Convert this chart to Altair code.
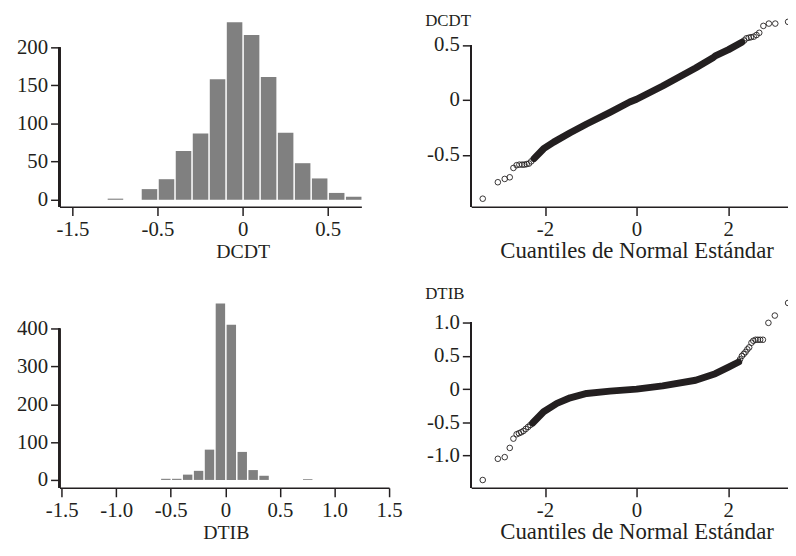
import altair as alt
import pandas as pd

FONT = "Liberation Serif"
INK = "#231f20"
BAR = "#808080"
BIN_W = 0.1

# ---------------- data ----------------
# Histogram DCDT (bin left edges, counts)
dcdt_bin_start = [-0.8, -0.6, -0.5, -0.4, -0.3, -0.2, -0.1, 0.0, 0.1, 0.2, 0.3, 0.4, 0.5, 0.6]
dcdt_counts = [1.5, 14, 27, 64, 87, 158, 233, 216, 161, 88, 48, 28, 9, 4]
dcdt_hist_ticks = [-1.0, -0.5, 0.0, 0.5]
dcdt_hist_labels = ["-1.5", "-0.5", "0", "0.5"]
dcdt_count_ticks = [0, 50, 100, 150, 200]

# Histogram DTIB
dtib_bin_start = [-0.6, -0.5, -0.4, -0.3, -0.2, -0.1, 0.0, 0.1, 0.2, 0.3, 0.7]
dtib_counts = [3, 3, 14, 24, 80, 466, 410, 74, 26, 11, 2]
dtib_hist_ticks = [-1.5, -1.0, -0.5, 0.0, 0.5, 1.0, 1.5]
dtib_hist_labels = ["-1.5", "-1.0", "-0.5", "0", "0.5", "1.0", "1.5"]
dtib_count_ticks = [0, 100, 200, 300, 400]

# Normal QQ plot DCDT: dense band (quantile, value) and the separate tail points
dcdt_band_q = [-2.24, -2.03, -1.81, -1.45, -1.09, -0.58, -0.15, 0.0, 0.57, 1.29, 1.66, 1.72, 2.01, 2.30]
dcdt_band_v = [-0.535, -0.445, -0.385, -0.30, -0.22, -0.114, -0.02, 0.005, 0.126, 0.29, 0.38, 0.40, 0.457, 0.525]
dcdt_tail_q = [-3.36, -3.03, -2.88, -2.77, -2.69, -2.62, -2.56, -2.50, -2.45, -2.40, -2.35, -2.30,
               2.35, 2.40, 2.45, 2.50, 2.56, 2.62, 2.68, 2.77, 2.89, 3.03, 3.31]
dcdt_tail_v = [-0.90, -0.75, -0.72, -0.705, -0.62, -0.595, -0.59, -0.59, -0.59, -0.585, -0.58, -0.56,
               0.54, 0.56, 0.565, 0.57, 0.575, 0.59, 0.61, 0.673, 0.694, 0.694, 0.71]
dcdt_qq_ticks = [-0.5, 0.0, 0.5]
dcdt_qq_labels = ["-0.5", "0", "0.5"]

# Normal QQ plot DTIB
dtib_band_q = [-2.27, -2.03, -1.74, -1.45, -1.09, -0.58, 0.0, 0.57, 1.29, 1.72, 2.01, 2.23]
dtib_band_v = [-0.51, -0.34, -0.215, -0.13, -0.065, -0.03, 0.0, 0.05, 0.134, 0.233, 0.333, 0.41]
dtib_tail_q = [-3.36, -3.03, -2.88, -2.77, -2.69, -2.62, -2.57, -2.52, -2.47, -2.42, -2.37, -2.32,
               2.26, 2.30, 2.34, 2.38, 2.42, 2.46, 2.51, 2.55, 2.60, 2.65, 2.70, 2.76, 2.88, 3.02, 3.31]
dtib_tail_v = [-1.37, -1.05, -1.025, -0.886, -0.746, -0.68, -0.665, -0.65, -0.63, -0.60, -0.57, -0.54,
               0.45, 0.50, 0.53, 0.56, 0.60, 0.63, 0.70, 0.73, 0.745, 0.745, 0.745, 0.745, 1.0, 1.11, 1.30]
dtib_qq_ticks = [-1.0, -0.5, 0.0, 0.5, 1.0]
dtib_qq_labels = ["-1.0", "-0.5", "0", "0.5", "1.0"]

qq_x_ticks = [-2, 0, 2]
qq_x_labels = ["-2", "0", "2"]
qq_x_title = "Cuantiles de Normal Estándar"


def label_expr(vals, texts):
    expr = "''"
    for v, t in zip(reversed(vals), reversed(texts)):
        expr = f"abs(datum.value - ({v})) < 1e-6 ? '{t}' : ({expr})"
    return expr


def hist_panel(starts, counts, xdom, ydom, xticks, xlabels, yticks, title, title_x, width, height):
    df = pd.DataFrame({"start": starts,
                       "end": [round(s + BIN_W, 3) for s in starts],
                       "count": counts})
    xs = alt.Scale(domain=xdom, nice=False, zero=False)
    ys = alt.Scale(domain=ydom, nice=False, zero=False)
    bars = alt.Chart(df).mark_bar(color=BAR, binSpacing=1.5).encode(
        x=alt.X("start:Q", bin="binned", scale=xs,
                axis=alt.Axis(values=xticks, labelExpr=label_expr(xticks, xlabels),
                              title=title, titleX=title_x, titleY=45,
                              titleAlign="center", titleBaseline="middle",
                              titleFontSize=20)),
        x2="end:Q",
        y=alt.Y("count:Q", scale=ys,
                axis=alt.Axis(values=yticks, title=None, domain=False,
                              labelExpr=label_expr(yticks, [str(v) for v in yticks]))),
        y2=alt.datum(0),
    )
    yline = alt.Chart(df).mark_rule(color=INK, strokeWidth=1.5).encode(
        x=alt.value(0),
        y=alt.datum(yticks[-1], scale=ys),
        y2=alt.datum(ydom[0]),
    )
    return alt.layer(bars, yline).properties(width=width, height=height)


def qq_panel(bq, bv, tq, tv, xdom, ydom, yticks, ylabels, ytitle, ytitle_y, width, height):
    band = pd.DataFrame({"q": bq, "v": bv})
    tails = pd.DataFrame({"q": tq, "v": tv})
    xs = alt.Scale(domain=xdom, nice=False, zero=False)
    ys = alt.Scale(domain=ydom, nice=False, zero=False)
    xax = alt.Axis(values=qq_x_ticks, labelExpr=label_expr(qq_x_ticks, qq_x_labels),
                   title=qq_x_title, titleX=167, titleY=44,
                   titleAlign="center", titleBaseline="middle", titleFontSize=23)
    yax = alt.Axis(values=yticks, labelExpr=label_expr(yticks, ylabels), domain=False,
                   title=ytitle, titleAngle=0, titleAlign="left", titleBaseline="middle",
                   titleX=-47, titleY=ytitle_y, titleFontSize=17)
    line = alt.Chart(band).mark_line(color=INK, strokeWidth=7, strokeCap="round",
                                     strokeJoin="round", clip=True).encode(
        x=alt.X("q:Q", scale=xs, axis=xax),
        y=alt.Y("v:Q", scale=ys, axis=yax),
        order="q:Q",
    )
    pts = alt.Chart(tails).mark_point(shape="circle", filled=False, size=32, color=INK,
                                      strokeWidth=0.9, opacity=1, clip=True).encode(
        x=alt.X("q:Q", scale=xs),
        y=alt.Y("v:Q", scale=ys),
    )
    yline = alt.Chart(tails).mark_rule(color=INK, strokeWidth=1.5).encode(
        x=alt.value(0),
        y=alt.datum(yticks[-1], scale=ys),
        y2=alt.datum(ydom[0]),
    )
    return alt.layer(line, pts, yline).properties(width=width, height=height)


h1 = hist_panel(dcdt_bin_start, dcdt_counts, [-1.076, 0.698], [-9.1, 246.7],
                dcdt_hist_ticks, dcdt_hist_labels, dcdt_count_ticks, "DCDT", 185, 305, 197)
q1 = qq_panel(dcdt_band_q, dcdt_band_v, dcdt_tail_q, dcdt_tail_v, [-3.611, 3.308], [-0.973, 0.802],
              dcdt_qq_ticks, dcdt_qq_labels, "DCDT", 8.5, 320, 197)
h2 = hist_panel(dtib_bin_start, dtib_counts, [-1.52, 1.5], [-20.9, 517.7],
                dtib_hist_ticks, dtib_hist_labels, dtib_count_ticks, "DTIB", 168, 333, 206)
q2 = qq_panel(dtib_band_q, dtib_band_v, dtib_tail_q, dtib_tail_v, [-3.611, 3.308], [-1.488, 1.587],
              dtib_qq_ticks, dtib_qq_labels, "DTIB", 10, 320, 206)

top = alt.hconcat(h1, q1, spacing=63)
bottom = alt.hconcat(h2, q2, spacing=22)

chart = alt.vconcat(top, bottom, spacing=22,
                    padding={"left": 8, "top": 0, "right": 0, "bottom": 0}).configure_view(
    stroke=None
).configure_axis(
    labelFont=FONT, titleFont=FONT, labelFontSize=21, labelColor=INK, titleColor=INK,
    domainColor=INK, tickColor=INK, domainWidth=1.5, tickWidth=1.5, tickSize=9,
    labelPadding=3, grid=False, labelFlush=False, labelOverlap=False,
    titleFontWeight="normal", titlePadding=0
)

chart.save("out.html", embed_options={"renderer": "svg", "actions": False})
